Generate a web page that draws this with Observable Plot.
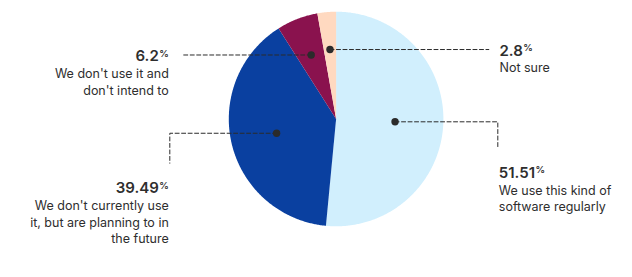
<!DOCTYPE html>
<html><head><meta charset="utf-8">
<script src="https://cdn.jsdelivr.net/npm/d3@7"></script>
<script src="https://cdn.jsdelivr.net/npm/@observablehq/plot@0.6"></script>
<style>
body{margin:0;background:#fff;}
#chart svg{display:block;}
</style>
</head><body><div id="chart"></div>
<script>
// ---- data ----
const categories = ["regular", "planning", "noIntent", "notSure"];
const values = [51.51, 39.49, 6.2, 2.8];
const valueLabels = ["51.51", "39.49", "6.2", "2.8"];
const descriptions = [
  ["We use this kind of", "software regularly"],
  ["We don't currently use", "it, but are planning to in", "the future"],
  ["We don't use it and", "don't intend to"],
  ["Not sure"]
];

// ---- styles / layout ----
const colors = ["#d1effd", "#0a40a0", "#8a124e", "#ffd9c0"];
const W = 632, H = 277;
const cx = 335.6, cy = 118.5, R = 107.3;
// per-slice annotation layout: dot radius ratio, elbow x, leader end y (null = horizontal only), label x, number baseline, anchor
const layout = [
  {ratio: 0.55, elbowX: 497.3, endY: 148.3, labelX: 498.3, numY: 177.3, anchor: "start"},
  {ratio: 0.57, elbowX: 169.3, endY: 162.7, labelX: 168.3, numY: 192.7, anchor: "end"},
  {ratio: 0.64, elbowX: 181.7, endY: null, labelX: 168.3, numY: 60.7, anchor: "end"},
  {ratio: 0.65, elbowX: 488.3, endY: null, labelX: 499, numY: 55, anchor: "start"}
];
const lineStep = 16.7;

const pie = d3.pie().sort(null).value(d => d)(values);
const pt = (a, r) => [cx + r * Math.sin(a), cy - r * Math.cos(a)];

// slice polygons
const slicePts = [];
pie.forEach((p, i) => {
  slicePts.push({k: i, x: cx, y: cy});
  const n = Math.max(2, Math.ceil((p.endAngle - p.startAngle) / (Math.PI / 360)));
  for (let j = 0; j <= n; j++) {
    const a = p.startAngle + (p.endAngle - p.startAngle) * j / n;
    const [x, y] = pt(a, R);
    slicePts.push({k: i, x, y});
  }
  slicePts.push({k: i, x: cx, y: cy});
});

// dots and leaders
const dots = pie.map((p, i) => {
  const a = (p.startAngle + p.endAngle) / 2;
  const [x, y] = pt(a, R * layout[i].ratio);
  return {k: i, x, y};
});
const leaders = [];
dots.forEach((d, i) => {
  const L = layout[i];
  leaders.push({k: i, x: d.x, y: d.y});
  leaders.push({k: i, x: L.elbowX, y: d.y});
  if (L.endY != null) leaders.push({k: i, x: L.elbowX, y: L.endY});
});

const numbers = values.map((v, i) => ({k: i, x: layout[i].labelX, y: layout[i].numY, text: valueLabels[i], anchor: layout[i].anchor}));
const descLines = [];
descriptions.forEach((lines, i) => lines.forEach((t, j) => descLines.push({
  k: i, x: layout[i].labelX, y: layout[i].numY + lineStep * (j + 1), text: t, anchor: layout[i].anchor
})));

const font = "Inter, 'Noto Sans', sans-serif";
const textColor = "#2e2e2e";

const chart = Plot.plot({
  width: W, height: H,
  margin: 0,
  style: {fontFamily: font, background: "#fff"},
  x: {domain: [0, W], range: [0, W], axis: null},
  y: {domain: [0, H], range: [0, H], axis: null},
  color: {domain: d3.range(values.length), range: colors},
  marks: [
    Plot.line(slicePts, {x: "x", y: "y", z: "k", fill: d => d.k, stroke: null, curve: "linear"}),
    Plot.line(leaders, {x: "x", y: "y", z: "k", stroke: "#2b2b2b", strokeWidth: 1, strokeDasharray: "4,2.5"}),
    Plot.dot(dots, {x: "x", y: "y", r: 3.7, fill: "#2b2b2b", stroke: null}),
    ...["start", "end"].map(anc => Plot.text(numbers.filter(d => d.anchor === anc), {
      x: "x", y: "y", text: "text", textAnchor: anc, lineAnchor: "bottom",
      fontSize: 15, fontWeight: 600, fill: textColor, className: "num"
    })),
    ...["start", "end"].map(anc => Plot.text(descLines.filter(d => d.anchor === anc), {
      x: "x", y: "y", text: "text", textAnchor: anc, lineAnchor: "bottom",
      fontSize: 12.5, fill: textColor
    }))
  ]
});
document.getElementById("chart").appendChild(chart);

// superscript percent signs
chart.querySelectorAll("g.num text, .num text").forEach(t => {
  const s = document.createElementNS("http://www.w3.org/2000/svg", "tspan");
  s.setAttribute("font-size", "9.5");
  s.setAttribute("dy", "-4.5");
  s.setAttribute("dx", "0.5");
  s.textContent = "%";
  t.appendChild(s);
});
</script>
</body></html>
